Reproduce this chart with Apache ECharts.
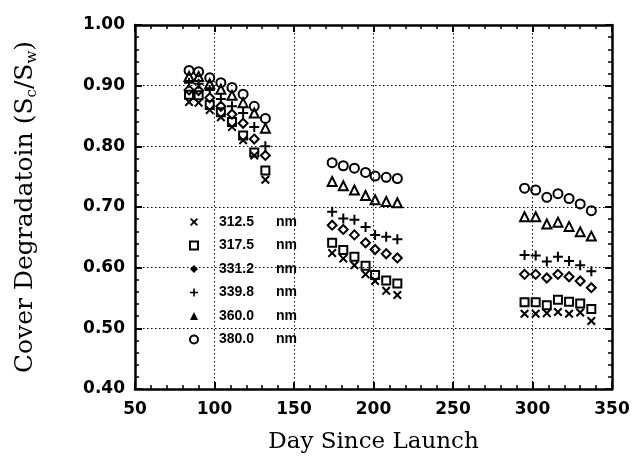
<!DOCTYPE html>
<html>
<head>
<meta charset="utf-8">
<script src="https://cdn.jsdelivr.net/npm/echarts@6/dist/echarts.min.js"></script>
<style>
  html, body { margin: 0; background: #fff; }
  #chart { width: 633px; height: 468px; }
</style>
</head>
<body>
<div id="chart"></div>
<script>
// observation days (three periods)
var days = [84, 90, 97, 104, 111, 118, 125, 132,
            174, 181, 188, 195, 201, 208, 215,
            295, 302, 309, 316, 323, 330, 337];

var wavelengths = ["312.5", "317.5", "331.2", "339.8", "360.0", "380.0"];

// cover degradation Sc/Sw per wavelength, same order as days
var s3125 = [0.873, 0.872, 0.860, 0.848, 0.832, 0.810, 0.785, 0.745,
             0.624, 0.615, 0.604, 0.589, 0.578, 0.562, 0.555,
             0.524, 0.524, 0.525, 0.527, 0.524, 0.526, 0.512];
var s3175 = [0.885, 0.884, 0.868, 0.856, 0.840, 0.818, 0.790, 0.760,
             0.641, 0.629, 0.618, 0.603, 0.588, 0.579, 0.574,
             0.543, 0.543, 0.538, 0.547, 0.544, 0.541, 0.532];
var s3312 = [0.893, 0.892, 0.880, 0.866, 0.853, 0.838, 0.812, 0.785,
             0.670, 0.663, 0.654, 0.641, 0.630, 0.623, 0.616,
             0.589, 0.589, 0.583, 0.589, 0.585, 0.578, 0.567];
var s3398 = [0.905, 0.903, 0.893, 0.878, 0.866, 0.855, 0.832, 0.800,
             0.692, 0.681, 0.679, 0.667, 0.654, 0.651, 0.647,
             0.621, 0.620, 0.610, 0.618, 0.611, 0.604, 0.594];
var s3600 = [0.915, 0.915, 0.903, 0.894, 0.884, 0.872, 0.855, 0.830,
             0.742, 0.735, 0.728, 0.719, 0.712, 0.709, 0.707,
             0.684, 0.684, 0.672, 0.675, 0.668, 0.659, 0.652];
var s3800 = [0.925, 0.923, 0.913, 0.905, 0.897, 0.886, 0.866, 0.846,
             0.773, 0.768, 0.764, 0.757, 0.751, 0.749, 0.747,
             0.731, 0.728, 0.716, 0.722, 0.714, 0.705, 0.694];

var X_PATH = "path://M0,1.6L1.6,0L5,3.4L8.4,0L10,1.6L6.6,5L10,8.4L8.4,10L5,6.6L1.6,10L0,8.4L3.4,5Z";
var PLUS_PATH = "path://M4,0H6V4H10V6H6V10H4V6H0V4H4Z";

var values = [s3125, s3175, s3312, s3398, s3600, s3800];
var symbols = [X_PATH, "rect", "diamond", PLUS_PATH, "triangle", "circle"];
var sizes = [9, 8, 9, 10, 9, 9];
var filled = [true, false, false, true, false, false];
var legendFill = [true, false, true, true, true, false];

function pairs(vals) {
  return days.map(function (d, i) { return [d, vals[i]]; });
}

var chart = echarts.init(document.getElementById("chart"));

var series = wavelengths.map(function (w, k) {
  return {
    name: w,
    type: "scatter",
    symbol: symbols[k],
    symbolSize: sizes[k],
    xAxisIndex: 0,
    yAxisIndex: 0,
    data: pairs(values[k]),
    itemStyle: filled[k]
      ? { color: "#000", opacity: 1, borderWidth: 0 }
      : { color: "rgba(0,0,0,0)", borderColor: "#000", borderWidth: 2, opacity: 1 },
    emphasis: { disabled: true },
    animation: false
  };
});

var axisLine = { onZero: false, lineStyle: { color: "#000", width: 2.5 } };
var tick = { inside: true, length: 7, lineStyle: { color: "#000", width: 2 } };
var minor = { show: true, splitNumber: 5, length: 4, lineStyle: { color: "#000", width: 1.5 } };
var grid = { show: true, lineStyle: { color: "#000", width: 1, type: [1.5, 2.5] } };
var tickFont = { color: "#000", fontFamily: "DejaVu Sans", fontWeight: "bold", fontSize: 17 };

chart.setOption({
  backgroundColor: "#fff",
  animation: false,
  grid: { left: 135, right: 21, top: 25, bottom: 79, containLabel: false, outerBoundsMode: "none" },
  legend: {
    orient: "vertical",
    left: 184,
    top: 210,
    itemWidth: 8,
    itemHeight: 8,
    itemGap: 9.5,
    selectedMode: false,
    data: wavelengths.map(function (w, k) {
      return {
        name: w,
        itemStyle: legendFill[k]
          ? { color: "#000", borderWidth: 0 }
          : { color: "rgba(0,0,0,0)", borderColor: "#000", borderWidth: 2 }
      };
    }),
    formatter: function (name) { return "{n|" + name + "}{u|nm}"; },
    textStyle: {
      rich: {
        n: { width: 57, padding: [0, 0, 0, 16], fontFamily: "Liberation Sans", fontWeight: "bold", fontSize: 14, color: "#000", lineHeight: 16 },
        u: { fontFamily: "Liberation Sans", fontWeight: "bold", fontSize: 14, color: "#000", lineHeight: 16 }
      }
    }
  },
  xAxis: [{
    type: "value", min: 50, max: 350, interval: 50, position: "bottom",
    axisLine: axisLine, axisTick: tick, minorTick: minor, splitLine: grid,
    axisLabel: Object.assign({ margin: 12 }, tickFont),
    name: "Day Since Launch", nameLocation: "middle", nameGap: 42,
    nameTextStyle: { fontFamily: "DejaVu Serif", fontSize: 23, color: "#000" }
  }, {
    type: "value", min: 50, max: 350, interval: 50, position: "top",
    axisLine: axisLine, axisTick: tick, minorTick: minor,
    axisLabel: { show: false }, splitLine: { show: false }
  }],
  yAxis: [{
    type: "value", min: 0.4, max: 1.0, interval: 0.1, position: "left",
    axisLine: axisLine, axisTick: tick, minorTick: minor, splitLine: grid,
    axisLabel: Object.assign({ margin: 10, formatter: function (v) { return v.toFixed(2); } }, tickFont),
    name: "Cover Degradatoin (S{sub|c}/S{sub|w})", nameLocation: "middle", nameGap: 95, nameRotate: 90,
    nameTextStyle: {
      fontFamily: "DejaVu Serif", fontSize: 25, color: "#000", lineHeight: 30,
      rich: { sub: { fontFamily: "DejaVu Serif", fontSize: 15, color: "#000", lineHeight: 30, verticalAlign: "bottom" } }
    }
  }, {
    type: "value", min: 0.4, max: 1.0, interval: 0.1, position: "right",
    axisLine: axisLine, axisTick: tick, minorTick: minor,
    axisLabel: { show: false }, splitLine: { show: false }
  }],
  series: series
});
</script>
</body>
</html>
